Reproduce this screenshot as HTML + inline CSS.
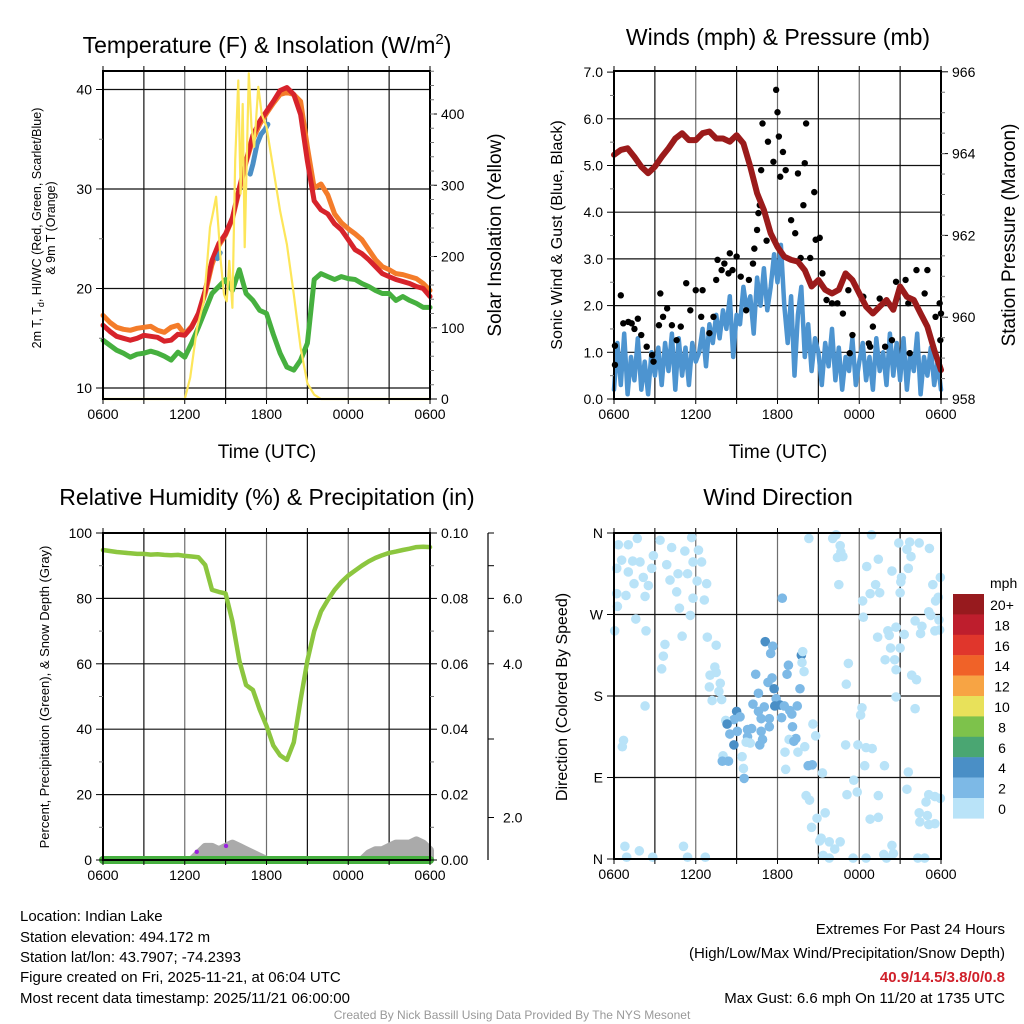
<!DOCTYPE html>
<html><head><meta charset="utf-8"><style>
html,body{margin:0;padding:0;background:#fff;}
svg{display:block;font-family:"Liberation Sans",sans-serif;}
</style></head><body>
<svg id="chart" width="1024" height="1024" viewBox="0 0 1024 1024" xmlns="http://www.w3.org/2000/svg">
<rect width="1024" height="1024" fill="#fff"/>
<g id="grids"></g><g id="marks"></g><g id="frames"></g>
<g id="texts" font-family="Liberation Sans, sans-serif" fill="#000">
<text x="267" y="53" font-size="23" text-anchor="middle">Temperature (F) &amp; Insolation (W/m<tspan dy="-9" font-size="15">2</tspan><tspan dy="9">)</tspan></text>
<text x="778" y="45" font-size="23" text-anchor="middle">Winds (mph) &amp; Pressure (mb)</text>
<text x="267" y="505" font-size="23" text-anchor="middle">Relative Humidity (%) &amp; Precipitation (in)</text>
<text x="778" y="505" font-size="23" text-anchor="middle">Wind Direction</text>
<text x="267" y="458" font-size="19" text-anchor="middle">Time (UTC)</text>
<text x="778" y="458" font-size="19" text-anchor="middle">Time (UTC)</text>
<text transform="translate(41,228) rotate(-90)" font-size="12.5" text-anchor="middle">2m T, T<tspan dy="3" font-size="9">d</tspan><tspan dy="-3">, HI/WC (Red, Green, Scarlet/Blue)</tspan></text>
<text transform="translate(55,228) rotate(-90)" font-size="12.5" text-anchor="middle">&amp; 9m T (Orange)</text>
<text transform="translate(501,235) rotate(-90)" font-size="19" text-anchor="middle">Solar Insolation (Yellow)</text>
<text transform="translate(562,235) rotate(-90)" font-size="16" text-anchor="middle">Sonic Wind &amp; Gust (Blue, Black)</text>
<text transform="translate(1015,235) rotate(-90)" font-size="19" text-anchor="middle">Station Pressure (Maroon)</text>
<text transform="translate(49,697) rotate(-90)" font-size="13" text-anchor="middle">Percent, Precipitation (Green), &amp; Snow Depth (Gray)</text>
<text transform="translate(567,697) rotate(-90)" font-size="16" text-anchor="middle">Direction (Colored By Speed)</text>
<g font-size="15">
<text x="20" y="921">Location: Indian Lake</text>
<text x="20" y="942">Station elevation: 494.172 m</text>
<text x="20" y="962">Station lat/lon: 43.7907; -74.2393</text>
<text x="20" y="982">Figure created on Fri, 2025-11-21, at 06:04 UTC</text>
<text x="20" y="1003">Most recent data timestamp: 2025/11/21 06:00:00</text>
</g>
<g font-size="15" text-anchor="end">
<text x="1005" y="934">Extremes For Past 24 Hours</text>
<text x="1005" y="958">(High/Low/Max Wind/Precipitation/Snow Depth)</text>
<text x="1005" y="982" fill="#d0202a" font-weight="bold">40.9/14.5/3.8/0/0.8</text>
<text x="1005" y="1003">Max Gust: 6.6 mph On 11/20 at 1735 UTC</text>
</g>
<text x="512" y="1019" font-size="12" fill="#999" text-anchor="middle">Created By Nick Bassill Using Data Provided By The NYS Mesonet</text>
<text x="990" y="588" font-size="14">mph</text>
</g>
</svg>
<script>
// ---------- data ----------
const hours = [0,0.5,1,1.5,2,2.5,3,3.5,4,4.5,5,5.5,6,6.5,7,7.5,8,8.5,9,9.5,10,10.5,11,11.5,12,12.5,13,13.5,14,14.5,15,15.5,16,16.5,17,17.5,18,18.5,19,19.5,20,20.5,21,21.5,22,22.5,23,23.5,24];
const tempRed = [16.3,15.7,15.2,15.0,14.8,15.0,15.3,15.2,15.1,14.7,14.8,15.4,15.3,16.1,17.5,19.8,22.8,24.5,25.5,27.1,30.1,32.8,35.4,36.8,37.8,38.8,39.9,40.2,39.5,37.5,32.8,28.8,27.9,27.5,26.5,25.9,24.9,23.9,23.5,22.9,22.2,21.5,21.2,20.9,20.7,20.5,20.2,20.0,19.2];
const temp9m = [17.3,16.6,16.1,15.9,15.8,16.0,16.1,16.2,15.8,15.6,16.1,16.3,15.4,16.2,17.4,19.5,22.4,24.3,25.4,27.0,29.9,32.7,35.0,36.5,37.6,38.6,39.5,39.7,39.5,38.8,34.2,30.1,30.5,29.4,27.5,26.6,26.0,25.5,24.9,23.9,22.9,22.2,21.9,21.5,21.4,21.2,21.0,20.5,19.8];
const dewpoint = [14.8,14.3,13.8,13.5,13.1,13.4,13.5,13.7,13.5,13.2,12.8,13.6,13.1,14.5,16.1,17.8,19.5,20.2,20.9,19.8,21.9,19.5,18.8,17.8,17.5,15.4,13.5,12.1,11.8,12.8,14.5,20.9,21.5,21.2,20.9,21.2,21.0,20.9,20.5,20.2,19.8,19.5,19.5,18.8,19.2,18.8,18.5,18.1,18.1];
const windChillT = [8.4,8.6,null,10.8,11.0,11.3,11.6,11.9,12.1];
const windChillV = [23.0,23.6,null,31.5,32.5,34.5,35.5,36.0,36.5];
const solarT = [0,6,6.4,6.9,7.4,7.6,7.85,8.1,8.3,8.47,8.64,8.88,9.08,9.27,9.5,9.7,9.93,10.1,10.25,10.4,10.7,10.9,11.1,11.4,11.65,12,13,13.5,14,14.5,15,15.5,16,24];
const solarV = [0,0,30,100,137,181,241,264,284,241,194,147,137,194,128,335,447,288,414,213,457,382,354,438,400,382,264,217,147,72,22,6,0,0];
const pressure = [963.97,964.09,964.13,963.92,963.68,963.52,963.68,963.92,964.13,964.37,964.50,964.33,964.33,964.50,964.54,964.37,964.37,964.29,964.45,964.25,963.68,963.03,962.62,962.05,961.72,961.48,961.40,961.36,961.15,960.75,960.91,960.67,960.58,960.67,961.07,960.91,960.58,960.26,960.09,960.26,960.42,960.18,960.75,960.50,960.42,960.09,959.77,959.20,958.71];
const windQuarter = [0.2,1.2,0.3,1.4,0.1,0.9,0.4,1.3,0.2,0.8,0.1,1.0,0.5,
1.1,0.3,1.2,0.6,1.4,0.2,1.3,0.5,1.1,0.3,1.2,0.8,
1.0,1.5,0.7,1.6,1.2,1.8,1.3,1.9,1.5,2.2,0.9,1.8,
1.6,2.4,1.9,2.2,1.4,2.6,2.0,2.8,1.9,2.4,3.1,2.5,
3.3,2.0,1.2,2.2,0.5,1.8,2.4,0.9,1.6,0.6,1.3,1.0,
0.3,1.2,0.7,1.5,0.4,1.1,0.2,0.9,0.6,1.3,0.3,0.8,
1.2,0.4,0.9,0.2,1.3,0.6,1.0,0.3,1.4,0.5,1.2,0.4,
1.3,0.2,1.0,0.6,1.4,0.1,0.9,0.5,1.1,0.3,0.8,0.2];
const gustT = [0.07,0.07,0.5,0.68,1.05,1.3,1.5,1.75,2.0,2.4,2.8,2.9,3.3,3.4,3.6,3.9,4.25,4.6,4.9,5.3,5.6,6.0,6.4,6.5,7.0,7.3,7.5,7.6,7.9,8.1,8.4,8.5,8.7,9.0,9.3,9.7,9.9,10.2,10.3,10.5,10.6,10.7,10.8,10.9,11.2,11.3,11.7,11.9,12.0,12.1,12.2,12.4,12.6,13.0,13.3,13.5,13.7,13.9,14.0,14.1,14.4,14.7,14.8,15.1,15.3,15.6,16.0,16.4,16.8,17.2,17.3,17.5,18.3,18.7,18.8,19.0,19.5,19.9,20.4,20.7,21.4,21.6,21.7,22.2,22.8,23.0,23.6,23.9,23.95,24.0];
const gustV = [0.73,1.14,2.22,1.62,1.65,1.62,1.5,1.72,1.37,1.12,0.94,0.8,1.58,2.26,1.76,1.94,1.58,1.26,1.55,2.48,1.9,2.33,1.76,2.33,1.41,1.76,2.55,2.98,2.76,2.9,2.69,3.12,2.76,3.05,2.62,1.9,2.55,2.9,3.22,3.62,3.98,4.15,4.9,5.9,3.39,5.51,5.08,6.62,6.14,5.62,4.76,5.29,4.9,3.83,3.55,4.83,3.02,4.15,5.05,5.9,3.02,4.43,3.41,3.45,2.69,2.12,2.05,2.05,1.83,2.33,0.98,1.37,2.19,1.19,1.12,1.55,2.15,1.12,1.26,2.51,2.55,2.05,0.98,2.76,2.26,2.76,1.76,2.05,1.26,1.83];
const rh = [94.8,94.5,94.2,94.0,93.8,93.6,93.6,93.4,93.5,93.3,93.2,93.3,93.0,92.8,92.6,90.2,82.6,82.0,81.5,73,61,53.5,52,46,41,35,32,30.6,36,49,61,70,76,79.5,82.6,85,87,88.5,90,91.3,92.4,93.2,93.9,94.3,94.8,95.2,95.7,95.8,95.7];
const precip = [0,0,0,0,0,0,0,0,0,0,0,0,0,0,0,0,0,0,0,0,0,0,0,0,0,0,0,0,0,0,0,0,0,0,0,0,0,0,0,0,0,0,0,0,0,0,0,0,0];
const snowDepth = [0,0,0,0,0,0,0,0,0,0,0,0,0,0,0.002,0.004,0.004,0.003,0.004,0.005,0.004,0.003,0.002,0.001,0,0,0,0,0,0,0,0,0,0,0,0,0,0,0,0.002,0.003,0.003,0.004,0.005,0.005,0.005,0.006,0.005,0.003];
const precipDotT = [6.88,9.03];
const precipDotV = [0.0025,0.0043];
const dirT = [0.32,1.05,1.71,3.38,5.7,0.56,1.37,1.91,2.89,4.23,5.2,6.2,6.43,0.2,1.05,2.15,2.77,3.87,4.7,5.4,5.8,1.47,2.52,4.11,6.1,6.8,0.2,0.88,2.28,4.6,5.8,6.63,0.25,4.8,5.6,1.6,2.35,0.05,5.0,6.85,3.74,3.62,3.5,7.5,7.4,7.05,7.5,7.8,7.0,7.7,7.2,7.9,2.28,0.7,0.61,0.8,1.86,5.1,0.93,2.84,5.4,6.7,
12.35,11.1,11.65,11.5,13.75,13.85,13.8,13.95,12.8,12.7,10.4,11.6,11.3,11.75,13.65,10.6,11.9,10.2,11.03,11.8,12.2,12.5,13.45,12.9,9.0,10.6,9.25,8.8,8.2,8.3,10.8,11.4,12.3,13.05,10.1,9.8,10.8,11.4,13.1,9.05,8.5,9.8,10.9,10.7,13.35,8.8,9.7,10.0,12.85,13.2,12.55,13.5,14.0,14.6,14.8,8.0,7.95,8.4,9.4,9.5,9.55,12.6,14.25,14.55,15.3,
14.3,16.05,16.3,18.9,16.6,16.65,16.4,16.8,20.9,21.7,22.4,23.15,21.5,21.8,19.4,18.55,20.4,21.6,21.1,21.05,23.95,23.4,16.5,19.2,19.5,18.8,21.0,18.25,23.8,23.6,23.1,23.25,23.85,22.1,22.6,23.55,23.9,22.5,20.7,21.3,18.3,20.1,20.2,19.35,20.3,21.0,19.9,20.6,20.7,17.2,21.85,22.2,17.05,20.7,18.2,18.1,22.1,17.0,17.9,18.5,18.95,18.4,19.85,21.6,17.6,17.1,17.85,21.5,19.4,23.1,23.55,23.95,22.9,22.4,23.0,22.45,23.1,23.55,14.1,14.35,14.9,15.5,14.5,18.8,19.4,15.2,15.1,15.8,16.2,16.6,20.4,19.8,20.5,15.35,15.8,17.55,18.5,20.0,22.3,22.8];
const dirV = [347,347,354,352,355,330,329,328,335,344,340,341,328,321,317,311,321,325,315,315,328,304,302,308,307,304,293,291,290,295,288,286,279,277,269,265,252,252,246,245,237,224,210,236,212,203,206,194,190,185,175,176,169,131,124,14,9,14,2,2,2,2,
288,240,235,227,225,229,217,207,214,204,204,200,195,188,188,183,177,171,168,169,170,169,169,164,163,163,157,154,153,149,155,155,156,160,144,143,141,146,146,141,138,135,132,126,133,126,129,128,132,130,118,118,124,149,136,114,108,108,113,100,89,99,103,104,95,
354,354,358,358,346,339,333,334,349,350,349,343,342,334,331,323,318,321,311,306,311,303,303,303,294,293,294,285,289,285,273,269,264,263,257,252,253,249,256,248,267,252,247,245,233,233,220,220,209,216,203,198,193,179,167,159,166,126,126,123,122,103,103,96,87,71,74,77,70,71,69,67,63,51,48,41,38,39,70,65,45,51,35,44,46,23,20,19,11,19,15,5,6,4,1,1,1,1,1,1];
const dirSpeed = [1,1,1,1,1,1,1,1,1,1,1,1,1,1,1,1,1,1,1,1,1,1,1,1,1,1,1,1,1,1,1,1,1,1,1,1,1,1,1,1,1,1,1,1,1,1,1,1,1,1,1,1,1,1,1,1,1,1,1,1,1,1,
3,5,3,3,5,1,1,1,3,3,3,3,3,5,3,3,3,3,3,5,5,3,3,3,5,3,3,3,1,5,3,3,3,3,3,3,3,3,3,3,3,3,3,3,3,5,1,1,1,3,1,1,1,1,1,1,3,3,1,1,3,1,3,3,1,
1,1,1,1,1,1,1,1,1,1,1,1,1,1,1,1,1,1,1,1,1,1,1,1,1,1,1,1,1,1,1,1,1,1,1,1,1,1,1,1,1,1,1,1,1,1,1,1,1,1,1,1,1,1,1,1,1,1,1,1,1,1,1,1,1,1,1,1,1,1,1,1,1,1,1,1,1,1,1,1,1,1,1,1,1,1,1,1,1,1,1,1,1,1,1,1,1,1,1,1];
const speedLabels = ["20+","18","16","14","12","10","8","6","4","2","0"];
const speedColors = ["#971a1e","#be1e2d","#e0362c","#f06228","#f7a444","#e8e15a","#7dc24b","#4aa672","#4a8fc6","#7db9e6","#b9e3f8"];
const timeLabels = ["0600","1200","1800","0000","0600"];
const timeTicks = [0,6,12,18,24];
const tempTicks = [10,20,30,40];
const solarTicks = [0,100,200,300,400];
const windTicks = [0,1,2,3,4,5,6,7];
const pressTicks = [958,960,962,964,966];
const rhTicks = [0,20,40,60,80,100];
const precipTicks = [0,0.02,0.04,0.06,0.08,0.1];
const snowAxisLabels = ["2.0","4.0","6.0"];
const snowAxisPos = [0.013,0.06,0.08];
const dirLabels = ["N","W","S","E","N"];
const dirTicks = [360,270,180,90,0];

// ---------- helpers ----------
const NS='http://www.w3.org/2000/svg';
const G=id=>document.getElementById(id);
function mk(tag,attrs,parent){const e=document.createElementNS(NS,tag);for(const k in attrs)e.setAttribute(k,attrs[k]);parent.appendChild(e);return e;}
const P1={x0:103,x1:430,y0:71,y1:399}, P2={x0:614,x1:941,y0:71,y1:399}, P3={x0:103,x1:430,y0:533,y1:860}, P4={x0:614,x1:941,y0:533,y1:859};
const xs=(p,t)=>p.x0+t*(p.x1-p.x0)/24;
const yTemp=v=>388-(v-10)*9.95;
const ySolar=v=>399-v*0.7125;
const yWind=v=>399-v*46.7;
const yPress=v=>399-(v-958)*40.9;
const yRH=v=>860-v*3.27;
const yPrecip=v=>860-v*3270;
const yDir=v=>859-v/360*326;

function path(p,ts,vs,yf){let d='',pen=false;for(let i=0;i<ts.length;i++){if(ts[i]===null||vs[i]===null){pen=false;continue;}d+=(pen?'L':'M')+xs(p,ts[i]).toFixed(1)+','+yf(vs[i]).toFixed(1);pen=true;}return d;}

const grids=G('grids'),marks=G('marks'),frames=G('frames'),texts=G('texts');
function grid(p,hy){
  for(let t=3;t<24;t+=3){const l=mk('line',{x1:xs(p,t),x2:xs(p,t),y1:p.y0,y2:p.y1,stroke:(t%6===0)?'#6e6e6e':'#111','stroke-width':1.2},grids);
    
    }
  hy.forEach(y=>{const l=mk('line',{x1:p.x0,x2:p.x1,y1:y,y2:y,stroke:'#111','stroke-width':1.2},grids);
    
    });
}
function frame(p,name){
  const r=mk('rect',{x:p.x0,y:p.y0,width:p.x1-p.x0,height:p.y1-p.y0,fill:'none',stroke:'#000','stroke-width':2},frames);
  
  
  for(let t=0;t<=24;t+=3){mk('line',{x1:xs(p,t),x2:xs(p,t),y1:p.y1,y2:p.y1+5,stroke:'#000'},frames);mk('line',{x1:xs(p,t),x2:xs(p,t),y1:p.y0,y2:p.y0-5,stroke:'#000'},frames);}
  timeTicks.forEach((t,i)=>{const tx=mk('text',{x:xs(p,t),y:p.y1+20,'font-size':14,'text-anchor':'middle'},texts);tx.textContent=timeLabels[i];
    
    });
}
function yaxis(x,ticks,yf,fmt,side,name,minor){
  ticks.forEach(v=>{const y=yf(v);mk('line',{x1:x,x2:x+(side<0?-7:7),y1:y,y2:y,stroke:'#000'},frames);
    const tx=mk('text',{x:x+(side<0?-11:11),y:y+5,'font-size':14,'text-anchor':side<0?'end':'start'},texts);tx.textContent=fmt(v);
    
    });
  if(minor)minor.forEach(v=>{const y=yf(v);mk('line',{x1:x,x2:x+(side<0?-4:4),y1:y,y2:y,stroke:'#777'},frames);});
}
function seq(a,b,s){const r=[];for(let v=a;v<=b+1e-9;v+=s)r.push(+v.toFixed(4));return r;}
function line(d,color,w,name){const e=mk('path',{d:d,fill:'none',stroke:color,'stroke-width':w,'stroke-linejoin':'round','stroke-linecap':'round'},marks);
  
  return e;}

// ---------- panel 1 ----------
grid(P1,tempTicks.map(yTemp));
line(path(P1,hours,temp9m,yTemp),'#f47c2a',5,'series-9m-temp');
line(path(P1,hours,dewpoint,yTemp),'#46b03f',5,'series-dewpoint');
line(path(P1,hours,tempRed,yTemp),'#d7232b',5,'series-2m-temp');
line(path(P1,windChillT,windChillV,yTemp),'#4a8fc6',5,'series-wind-chill');
line(path(P1,solarT,solarV,ySolar),'#fde65a',2.2,'series-solar-insolation');
frame(P1,'temp-plot-frame');
yaxis(P1.x0,tempTicks,yTemp,v=>String(v),-1,'temp-y-tick-label',seq(15,40,10));
yaxis(P1.x1,solarTicks,ySolar,v=>String(v),1,'solar-y-tick-label',seq(20,460,20));

// ---------- panel 2 ----------
grid(P2,[1,2,3,4,5,6].map(yWind));
{const qt=windQuarter.map((v,i)=>i*0.25);line(path(P2,qt,windQuarter,yWind),'#4d94d0',4.5,'series-sonic-wind');}
gustT.forEach((t,i)=>{const c=mk('circle',{cx:xs(P2,t),cy:yWind(gustV[i]),r:3.2,fill:'#000'},marks);
  
  });
line(path(P2,hours,pressure,yPress),'#9b1b1b',6,'series-station-pressure');
frame(P2,'wind-plot-frame');
yaxis(P2.x0,windTicks,yWind,v=>v.toFixed(1),-1,'wind-y-tick-label',seq(0.5,6.5,1));
yaxis(P2.x1,pressTicks,yPress,v=>String(v),1,'pressure-y-tick-label',seq(958.5,965.5,0.5));

// ---------- panel 3 ----------
grid(P3,[20,40,60,80].map(yRH));
{let d='M'+xs(P3,0)+','+P3.y1;hours.forEach((t,i)=>{d+='L'+xs(P3,t).toFixed(1)+','+yPrecip(snowDepth[i]).toFixed(1);});d+='L'+xs(P3,24)+','+P3.y1+'Z';
 const e=mk('path',{d:d,fill:'#aaa',stroke:'#aaa','stroke-width':8,'stroke-linejoin':'round'},marks);
 
 }
line(path(P3,hours,precip,yPrecip),'#46b03f',8,'series-precipitation');
line(path(P3,hours,rh,yRH),'#8cc63f',4.5,'series-relative-humidity');
precipDotT.forEach((t,i)=>{const c=mk('circle',{cx:xs(P3,t),cy:yPrecip(precipDotV[i]),r:2.2,fill:'#9b20e0'},marks);
  
  });
frame(P3,'rh-plot-frame');
yaxis(P3.x0,rhTicks,yRH,v=>String(v),-1,'rh-y-tick-label',seq(10,90,20));
yaxis(P3.x1,precipTicks,yPrecip,v=>v.toFixed(2),1,'precip-y-tick-label',seq(0.01,0.09,0.02));
{const ax=mk('line',{x1:488,x2:488,y1:533,y2:860,stroke:'#000','stroke-width':1.2},frames);
 
 
 [0.013,0.037,0.06,0.07,0.08,0.09,0.1].forEach(v=>mk('line',{x1:488,x2:494,y1:yPrecip(v),y2:yPrecip(v),stroke:'#000'},frames));
 snowAxisLabels.forEach((s,i)=>{const tx=mk('text',{x:503,y:yPrecip(snowAxisPos[i])+5,'font-size':14},texts);tx.textContent=s;
   
   });}

// ---------- panel 4 ----------
grid(P4,[270,180,90].map(yDir));
function spdColor(s){const idx=Math.min(10,Math.floor(s/2));return speedColors[10-idx];}
dirT.forEach((t,i)=>{const c=mk('circle',{cx:xs(P4,t),cy:yDir(dirV[i]),r:4.8,fill:spdColor(dirSpeed[i])},marks);
  
  });
frame(P4,'direction-plot-frame');
yaxis(P4.x0,dirTicks,yDir,v=>dirLabels[dirTicks.indexOf(v)],-1,'direction-y-tick-label',null);
// colorbar
speedColors.forEach((c,i)=>{const r=mk('rect',{x:953,y:594+i*20.4,width:31,height:20.6,fill:c},marks);
  
  
  const tx=mk('text',{x:1002,y:594+i*20.4+16,'font-size':14,'text-anchor':'middle'},texts);tx.textContent=speedLabels[i];
  
  });
</script>
</body></html>
